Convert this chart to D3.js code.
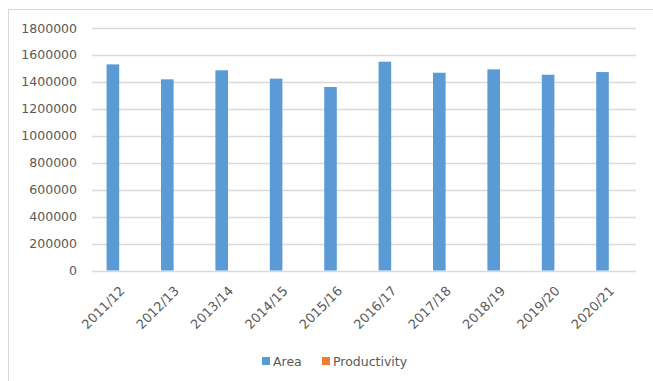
<!DOCTYPE html>
<html>
<head>
<meta charset="utf-8">
<script src="https://cdn.jsdelivr.net/npm/d3@7"></script>
<style>
  body { margin: 0; background: #fff; }
  text { font-family: "DejaVu Sans", sans-serif; fill: #595959; }
</style>
</head>
<body>
<div id="chart"></div>
<script>
// data
var seasons = ['2011/12', '2012/13', '2013/14', '2014/15', '2015/16', '2016/17', '2017/18', '2018/19', '2019/20', '2020/21']
var area = [1530000, 1419000, 1486000, 1424000, 1362000, 1550000, 1468000, 1493000, 1453000, 1473000]
var productivity = [1.9, 2.1, 2.0, 2.2, 1.8, 2.1, 2.2, 2.3, 2.4, 2.3]
var seriesNames = ['Area', 'Productivity']
var seriesColors = ['#5B9BD5', '#ED7D31']
var yTicks = [0, 200000, 400000, 600000, 800000, 1000000, 1200000, 1400000, 1600000, 1800000]

var width = 653, height = 381
var margin = { left: 92, right: 17, top: 28, bottom: 110.5 }

const svg = d3.select('#chart')
    .append('svg')
    .attr('width', width)
    .attr('height', height)

// outer chart border
svg.append('rect')
    .attr('x', 8.5).attr('y', 9.5)
    .attr('width', 700).attr('height', 400)
    .attr('fill', 'none')
    .attr('stroke', '#D9D9D9')

var x0 = d3.scaleBand()
    .domain(seasons)
    .range([margin.left, width - margin.right])
    .paddingInner(0.537)
    .paddingOuter(0.2685)

var x1 = d3.scaleBand()
    .domain(seriesNames)
    .range([0, x0.bandwidth()])

var y = d3.scaleLinear()
    .domain([0, 1800000])
    .range([height - margin.bottom, margin.top])

// gridlines
svg.append('g')
    .selectAll('line')
    .data(yTicks)
    .join('line')
    .attr('x1', margin.left)
    .attr('x2', width - margin.right)
    .attr('y1', d => Math.round(y(d)) + 0.5)
    .attr('y2', d => Math.round(y(d)) + 0.5)
    .attr('stroke', '#D9D9D9')
    .attr('stroke-width', 1.3)

// y labels
svg.append('g')
    .selectAll('text')
    .data(yTicks)
    .join('text')
    .attr('x', 77)
    .attr('y', d => y(d))
    .attr('dy', '0.36em')
    .attr('text-anchor', 'end')
    .attr('font-size', '12.5px')
    .text(d => d)

// bars
var rows = seasons.map((s, i) => ({ season: s, values: [area[i], productivity[i]] }))

svg.append('g')
    .selectAll('g')
    .data(rows)
    .join('g')
    .attr('transform', d => `translate(${x0(d.season)},0)`)
    .selectAll('rect')
    .data(d => d.values.map((v, j) => ({ key: seriesNames[j], value: v, color: seriesColors[j] })))
    .join('rect')
    .attr('x', d => x1(d.key))
    .attr('width', x1.bandwidth())
    .attr('y', d => y(d.value))
    .attr('height', d => y(0) - y(d.value))
    .attr('fill', d => d.color)

// x labels
svg.append('g')
    .selectAll('text')
    .data(seasons)
    .join('text')
    .attr('transform', d => `translate(${x0(d) + x0.bandwidth() / 2 + 3},${y(0) + 18}) rotate(-45)`)
    .attr('text-anchor', 'end')
    .attr('dy', '0.35em')
    .attr('font-size', '13px')
    .text(d => d)

// legend
var legend = svg.append('g')
    .attr('transform', 'translate(262,357)')

var legendX = [0, 60]
seriesNames.forEach((name, i) => {
    legend.append('rect')
        .attr('x', legendX[i])
        .attr('y', 0)
        .attr('width', 8)
        .attr('height', 8)
        .attr('fill', seriesColors[i])
    legend.append('text')
        .attr('x', legendX[i] + 11)
        .attr('y', 4)
        .attr('dy', '0.36em')
        .attr('font-size', '12.5px')
        .text(name)
})
</script>
</body>
</html>
